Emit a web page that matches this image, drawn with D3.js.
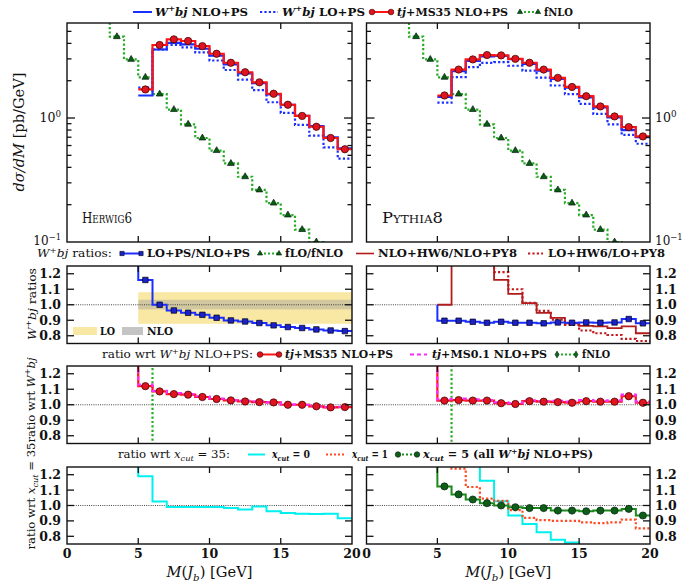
<!DOCTYPE html>
<html>
<head>
<meta charset="utf-8">
<script src="https://cdn.jsdelivr.net/npm/d3@7"></script>
<style>
body { margin: 0; background: #fff; }
text { font-family: "DejaVu Serif", serif; fill: #111; }
</style>
</head>
<body>
<div id="chart"></div>
<script>
// bins of M(J_b), lower edges (1 GeV wide)
var binLo = [5, 6, 7, 8, 9, 10, 11, 12, 13, 14, 15, 16, 17, 18, 19];
var fnloLo = [2, 3, 4, 5, 6, 7, 8, 9, 10, 11, 12, 13, 14, 15, 16, 17, 18];

// dsigma/dM [pb/GeV]
var fnlo = [8.0, 4.53, 2.97, 2.13, 1.56, 1.17, 0.89, 0.69, 0.546, 0.43, 0.336, 0.263, 0.206, 0.165, 0.126, 0.10, 0.08];
var hwNLO = [1.52, 3.57, 4.03, 3.92, 3.62, 3.18, 2.71, 2.29, 1.91, 1.55, 1.28, 1.04, 0.86, 0.70, 0.57];
var hwLO = [1.76, 3.57, 3.88, 3.72, 3.38, 2.91, 2.44, 2.04, 1.68, 1.34, 1.10, 0.88, 0.72, 0.58, 0.47];
var hwTJ = [1.70, 3.88, 4.31, 4.18, 3.80, 3.30, 2.79, 2.34, 1.94, 1.57, 1.28, 1.04, 0.85, 0.69, 0.56];
var pyNLO = [1.48, 2.39, 2.89, 3.14, 3.17, 2.99, 2.73, 2.41, 2.07, 1.76, 1.47, 1.22, 1.01, 0.80, 0.70];
var pyLO = [1.33, 2.14, 2.57, 2.78, 2.82, 2.64, 2.41, 2.12, 1.83, 1.56, 1.30, 1.08, 0.89, 0.73, 0.62];
var pyTJ = [1.52, 2.46, 2.97, 3.22, 3.20, 3.00, 2.79, 2.46, 2.11, 1.78, 1.50, 1.24, 1.03, 0.845, 0.71];

// W+bj ratios
var hwLOoverNLO = [1.16, 1.0, 0.963, 0.948, 0.935, 0.916, 0.899, 0.892, 0.882, 0.867, 0.856, 0.85, 0.841, 0.834, 0.83];
var pyLOoverNLO = [0.897, 0.897, 0.89, 0.884, 0.89, 0.884, 0.884, 0.88, 0.886, 0.884, 0.886, 0.884, 0.886, 0.908, 0.88];
var nloHWoverPY = [1.0, 1.5, 1.5, 1.5, 1.16, 1.07, 1.01, 0.947, 0.915, 0.88, 0.864, 0.86, 0.849, 0.86, 0.816];
var loHWoverPY = [1.5, 1.5, 1.5, 1.5, 1.21, 1.10, 1.013, 0.96, 0.904, 0.87, 0.834, 0.816, 0.805, 0.78, 0.766];
var bandLO = [0.877, 1.081];
var bandNLO = [0.97, 1.032];

// ratio wrt W+bj NLO+PS
var hwTJratio = [1.12, 1.086, 1.069, 1.065, 1.05, 1.037, 1.028, 1.021, 1.017, 1.015, 1.0, 1.0, 0.99, 0.983, 0.985];
var hwMS01ratio = [1.13, 1.09, 1.075, 1.068, 1.055, 1.04, 1.03, 1.025, 1.022, 1.015, 1.003, 1.0, 0.99, 0.985, 0.987];
var hwFnloRatio = [1.40, 0.44, 0.29, 0.23, 0.19, 0.17, 0.16, 0.15, 0.14, 0.13, 0.13, 0.12, 0.12, 0.11, 0.10];
var pyTJratio = [1.027, 1.03, 1.027, 1.027, 1.01, 1.005, 1.023, 1.02, 1.017, 1.013, 1.023, 1.02, 1.02, 1.055, 1.013];
var pyMS01ratio = [1.035, 1.04, 1.035, 1.03, 1.015, 1.01, 1.028, 1.024, 1.025, 1.02, 1.03, 1.025, 1.028, 1.065, 1.02];
var pyFnloRatio = [1.45, 0.65, 0.40, 0.28, 0.22, 0.18, 0.16, 0.14, 0.13, 0.12, 0.11, 0.10, 0.10, 0.10, 0.09];

// ratio wrt x_cut = 35
var hwXcut0 = [1.19, 1.026, 0.99, 0.99, 0.99, 0.99, 0.983, 0.974, 0.993, 0.963, 0.952, 0.946, 0.944, 0.946, 0.918];
var pyXcut0 = [1.5, 1.5, 1.5, 1.16, 1.028, 0.935, 0.88, 0.826, 0.778, 0.76, 0.7, 0.7, 0.7, 0.7, 0.7];
var pyXcut1 = [1.5, 1.24, 1.12, 1.045, 1.03, 0.97, 0.92, 0.905, 0.9, 0.9, 0.89, 0.885, 0.89, 0.908, 0.852];
var pyXcut5 = [1.124, 1.072, 1.039, 1.015, 1.0, 0.989, 0.983, 0.983, 0.967, 0.967, 0.963, 0.967, 0.967, 0.978, 0.935];

var xTicks = [0, 5, 10, 15, 20];
var ratioTicks = [0.8, 0.9, 1.0, 1.1, 1.2];
var logMinor = [0.2, 0.3, 0.4, 0.5, 0.6, 0.7, 0.8, 0.9, 2, 3, 4, 5];

var blue = "#1a2fff", red = "#ff1414", darkred = "#b01c1c", green = "#26ac26",
    magenta = "#ff2aff", cyan = "#00f0f0", orange = "#ff4a22", dkgreen = "#1a8a1a";

var svg = d3.select("#chart").append("svg")
    .attr("width", 685)
    .attr("height", 587);

var cols = [{x0: 67, x1: 352}, {x0: 366.5, x1: 650}];
var rows = [{y0: 23, y1: 242}, {y0: 266, y1: 343.5}, {y0: 366, y1: 443.5}, {y0: 467, y1: 544}];
var xs = cols.map(function(c) { return d3.scaleLinear().domain([0, 20]).range([c.x0, c.x1]); });

// text with tiny markup: {i:..} italic, {sup:..}, {sub:..} (italic)
function rich(g, x, y, str, fs, len) {
    var t = g.append("text").attr("x", x).attr("y", y).attr("font-size", fs);
    var shift = 0, re = /\{(\w+):([^}]*)\}|[^{]+/g, m;
    while ((m = re.exec(str)) !== null) {
        var kind = m[1] || "n", txt = m[1] ? m[2] : m[0];
        var s = t.append("tspan").text(txt);
        var target = kind == "sup" ? -0.42 * fs : kind == "sub" ? 0.28 * fs : 0;
        if (target != shift) { s.attr("dy", target - shift); shift = target; }
        if (kind == "sup" || kind == "sub") s.attr("font-size", fs * 0.7);
        if (kind == "i" || kind == "sub") s.attr("font-style", "italic");
    }
    if (len) t.attr("textLength", len).attr("lengthAdjust", "spacingAndGlyphs");
    return t;
}

var clipN = 0;
function makePanel(ci, ri) {
    var c = cols[ci], r = rows[ri];
    var id = "clip" + (clipN++);
    svg.append("clipPath").attr("id", id).append("rect")
        .attr("x", c.x0).attr("y", r.y0)
        .attr("width", c.x1 - c.x0).attr("height", r.y1 - r.y0);
    var y = ri == 0
        ? d3.scaleLog().domain([0.1, 5.84]).range([r.y1, r.y0])
        : d3.scaleLinear().domain([0.75, 1.25]).range([r.y1, r.y0]);
    var g = svg.append("g");
    var plot = g.append("g").attr("clip-path", "url(#" + id + ")");
    return {g: g, plot: plot, x: xs[ci], y: y, c: c, r: r, ci: ci, ri: ri};
}

function step(p, lo, vals, st) {
    var pts = [];
    if (st.from != null) pts.push([lo[0], st.from]);
    lo.forEach(function(l, i) { pts.push([l, vals[i]]); pts.push([l + 1, vals[i]]); });
    p.plot.append("path")
        .attr("d", d3.line().x(function(d) { return p.x(d[0]); }).y(function(d) { return p.y(d[1]); })(pts))
        .attr("fill", "none")
        .attr("stroke", st.color)
        .attr("stroke-width", st.width || 2)
        .attr("stroke-dasharray", st.dash || null);
}

function symbolPath(kind, size) {
    var types = {circle: d3.symbolCircle, tri: d3.symbolTriangle, square: d3.symbolSquare, diamond: d3.symbolDiamond};
    return d3.symbol().type(types[kind]).size(size)();
}

var markStyle = {
    circle: {fill: "#e0141e", stroke: "#300", size: 42},
    tri: {fill: "#0c5a14", stroke: "#021", size: 20},
    square: {fill: "#1a22c8", stroke: "#001", size: 30},
    gcircle: {fill: "#0e5e18", stroke: "#021", size: 40},
    diamond: {fill: "#0e6a18", stroke: "#021", size: 22}
};

function marks(p, lo, vals, key) {
    var ms = markStyle[key];
    p.plot.selectAll(null)
        .data(vals)
        .enter()
        .append("path")
        .attr("transform", function(d, i) { return "translate(" + p.x(lo[i] + 0.5) + "," + p.y(d) + ")"; })
        .attr("d", symbolPath(key == "gcircle" ? "circle" : key, ms.size))
        .attr("fill", ms.fill)
        .attr("stroke", ms.stroke)
        .attr("stroke-width", 0.7);
}

function unityLine(p) {
    p.plot.append("line")
        .attr("x1", p.c.x0).attr("x2", p.c.x1)
        .attr("y1", p.y(1)).attr("y2", p.y(1))
        .attr("stroke", "#333").attr("stroke-width", 0.9)
        .attr("stroke-dasharray", "1,1.2");
}

function finish(p) {
    var g = p.g, c = p.c, r = p.r;
    [5, 10, 15].forEach(function(v) {
        var xx = p.x(v);
        g.append("line").attr("x1", xx).attr("x2", xx).attr("y1", r.y0).attr("y2", r.y0 + 6).attr("stroke", "#111").attr("stroke-width", 1.3);
        g.append("line").attr("x1", xx).attr("x2", xx).attr("y1", r.y1).attr("y2", r.y1 - 6).attr("stroke", "#111").attr("stroke-width", 1.3);
    });
    var yt = p.ri == 0
        ? [{v: 1, len: 8}].concat(logMinor.map(function(v) { return {v: v, len: 4.5}; }))
        : ratioTicks.map(function(v) { return {v: v, len: 7}; });
    yt.forEach(function(t) {
        var yy = p.y(t.v);
        g.append("line").attr("x1", c.x0).attr("x2", c.x0 + t.len).attr("y1", yy).attr("y2", yy).attr("stroke", "#111").attr("stroke-width", 1.3);
        g.append("line").attr("x1", c.x1).attr("x2", c.x1 - t.len).attr("y1", yy).attr("y2", yy).attr("stroke", "#111").attr("stroke-width", 1.3);
    });
    g.append("rect")
        .attr("x", c.x0).attr("y", r.y0)
        .attr("width", c.x1 - c.x0).attr("height", r.y1 - r.y0)
        .attr("fill", "none").attr("stroke", "#111").attr("stroke-width", 1.4);

    // tick labels on the outer side
    var left = p.ci == 0;
    var lx = left ? c.x0 - 6 : c.x1 + 5;
    var anchor = left ? "end" : "start";
    if (p.ri == 0) {
        rich(g, lx, p.y(1) + 4, "10{sup:0}", 12.5).attr("text-anchor", anchor).attr("font-family", "Liberation Serif");
        rich(g, lx, p.y(0.1) + 3, "10{sup:−1}", 12).attr("text-anchor", anchor).attr("font-family", "Liberation Serif");
    } else {
        ratioTicks.forEach(function(v) {
            g.append("text").attr("x", lx).attr("y", p.y(v) + 4.5)
                .attr("text-anchor", anchor).attr("font-size", 12.5).attr("font-weight", "bold")
                .text(d3.format(".1f")(v));
        });
    }
    if (p.ri == 3) {
        xTicks.forEach(function(v) {
            g.append("text").attr("x", p.x(v)).attr("y", 558)
                .attr("text-anchor", "middle").attr("font-size", 12.5).attr("font-weight", "bold")
                .text(v);
        });
        rich(g, p.x(10), 577, "{i:M}({i:J}{sub:b}) [GeV]", 14, 86).attr("text-anchor", "middle");
    }
}

function legendItem(y, it) {
    var g = svg.append("g");
    var ly = y - 3.5;
    g.append("line")
        .attr("x1", it.s0).attr("x2", it.s1).attr("y1", ly).attr("y2", ly)
        .attr("stroke", it.color).attr("stroke-width", it.width || 2)
        .attr("stroke-dasharray", it.dash || null);
    if (it.mark) {
        var ms = markStyle[it.mark];
        [it.s0, it.s1].forEach(function(xx) {
            g.append("path")
                .attr("transform", "translate(" + xx + "," + ly + ")")
                .attr("d", symbolPath(it.mark == "gcircle" ? "circle" : it.mark, ms.size * 0.6))
                .attr("fill", ms.fill).attr("stroke", ms.stroke).attr("stroke-width", 0.6);
        });
    }
    rich(g, it.t0, y, it.label, 10.5, it.t1 - it.t0).attr("font-weight", "bold");
}

function header(x0, x1, y, str) {
    rich(svg, x0, y, str, 10.5, x1 - x0);
}

function smallCaps(x, y, str, len) {
    svg.append("text").attr("x", x).attr("y", y)
        .attr("font-size", 15).attr("font-variant", "small-caps")
        .attr("textLength", len).attr("lengthAdjust", "spacingAndGlyphs")
        .text(str);
}

// ---- top panels ----
[[hwNLO, hwLO, hwTJ], [pyNLO, pyLO, pyTJ]].forEach(function(set, ci) {
    var p = makePanel(ci, 0);
    step(p, fnloLo, fnlo, {color: green, width: 2.2, dash: "2.2,2.2"});
    step(p, binLo, set[1], {color: blue, width: 2.2, dash: "2.2,2.2"});
    step(p, binLo, set[0], {color: blue, width: 2.2});
    step(p, binLo, set[2], {color: red, width: 2.2});
    marks(p, fnloLo, fnlo, "tri");
    marks(p, binLo, set[2], "circle");
    finish(p);
});
smallCaps(82, 223, "Herwig6", 50);
smallCaps(382, 223, "Pythia8", 61);

// ---- ratio panel 1 ----
var p1 = makePanel(0, 1);
p1.plot.append("rect")
    .attr("x", p1.x(5)).attr("width", p1.x(20) - p1.x(5))
    .attr("y", p1.y(bandLO[1])).attr("height", p1.y(bandLO[0]) - p1.y(bandLO[1]))
    .attr("fill", "#f9e8a4");
p1.plot.append("rect")
    .attr("x", p1.x(5)).attr("width", p1.x(20) - p1.x(5))
    .attr("y", p1.y(bandNLO[1])).attr("height", p1.y(bandNLO[0]) - p1.y(bandNLO[1]))
    .attr("fill", "#9a9a9a").attr("fill-opacity", 0.42);
unityLine(p1);
step(p1, binLo, hwLOoverNLO, {color: blue, from: 1.5});
marks(p1, binLo, hwLOoverNLO, "square");
p1.g.append("rect").attr("x", 73).attr("y", 327).attr("width", 24).attr("height", 8).attr("fill", "#f9e8a4");
rich(p1.g, 100, 335, "LO", 10.5, 15).attr("font-weight", "bold");
p1.g.append("rect").attr("x", 122).attr("y", 327).attr("width", 21).attr("height", 8).attr("fill", "#c4c4c4");
rich(p1.g, 147, 335, "NLO", 10.5, 26).attr("font-weight", "bold");
finish(p1);

var p1r = makePanel(1, 1);
unityLine(p1r);
step(p1r, binLo, nloHWoverPY, {color: darkred, width: 1.8});
step(p1r, binLo, loHWoverPY, {color: "#c0181c", width: 2.2, dash: "2.2,2.2"});
step(p1r, binLo, pyLOoverNLO, {color: blue, from: 1.0});
marks(p1r, binLo, pyLOoverNLO, "square");
finish(p1r);

// ---- ratio panel 2 ----
[[hwTJratio, hwMS01ratio, hwFnloRatio], [pyTJratio, pyMS01ratio, pyFnloRatio]].forEach(function(set, ci) {
    var p = makePanel(ci, 2);
    unityLine(p);
    step(p, binLo, set[2], {color: green, width: 2.2, dash: "2.2,2.2"});
    step(p, binLo, set[0], {color: red, width: 2.2, from: 1.5});
    step(p, binLo, set[1], {color: magenta, width: 2.2, dash: "4,3", from: 1.5});
    marks(p, binLo, set[2], "diamond");
    marks(p, binLo, set[0], "circle");
    finish(p);
});

// ---- ratio panel 3 ----
var p3 = makePanel(0, 3);
unityLine(p3);
step(p3, binLo, hwXcut0, {color: cyan, width: 2, from: 1.5});
finish(p3);

var p3r = makePanel(1, 3);
unityLine(p3r);
step(p3r, binLo, pyXcut0, {color: cyan, width: 2});
step(p3r, binLo, pyXcut1, {color: orange, width: 2.2, dash: "2.2,2.2"});
step(p3r, binLo, pyXcut5, {color: dkgreen, width: 2, from: 1.5});
marks(p3r, binLo, pyXcut5, "gcircle");
finish(p3r);

// ---- legends ----
legendItem(15.5, {s0: 133, s1: 152, color: blue, t0: 155, t1: 248, label: "{i:W}{sup:+}{i:bj} NLO+PS"});
legendItem(15.5, {s0: 260, s1: 278, color: blue, dash: "2.2,2.2", t0: 282, t1: 365, label: "{i:W}{sup:+}{i:bj} LO+PS"});
legendItem(15.5, {s0: 372, s1: 391, color: red, mark: "circle", t0: 397, t1: 508, label: "{i:tj}+MS35 NLO+PS"});
legendItem(15.5, {s0: 520, s1: 538, color: green, dash: "2,2", mark: "tri", t0: 544, t1: 573, label: "fNLO"});

header(37, 112, 257, "{i:W}{sup:+}{i:bj} ratios:");
legendItem(257, {s0: 122, s1: 141, color: blue, mark: "square", t0: 147, t1: 250, label: "LO+PS/NLO+PS"});
legendItem(257, {s0: 260, s1: 279, color: green, dash: "2,2", mark: "tri", t0: 285, t1: 343, label: "fLO/fNLO"});
legendItem(257, {s0: 356, s1: 374, color: darkred, width: 1.6, t0: 378, t1: 517, label: "NLO+HW6/NLO+PY8"});
legendItem(257, {s0: 528, s1: 543, color: "#c0181c", dash: "2.2,2.2", t0: 548, t1: 665, label: "LO+HW6/LO+PY8"});

header(102, 253, 358, "ratio wrt {i:W}{sup:+}{i:bj} NLO+PS:");
legendItem(358, {s0: 260, s1: 279, color: red, mark: "circle", t0: 285, t1: 393, label: "{i:tj}+MS35 NLO+PS"});
legendItem(358, {s0: 410, s1: 427, color: magenta, dash: "4,3", t0: 432, t1: 547, label: "{i:tj}+MS0.1 NLO+PS"});
legendItem(358, {s0: 557, s1: 576, color: green, dash: "2,2", mark: "diamond", t0: 582, t1: 610, label: "fNLO"});

header(118, 230, 458, "ratio wrt {i:x}{sub:cut} = 35:");
legendItem(458, {s0: 248, s1: 265, color: cyan, t0: 272, t1: 310, label: "{i:x}{sub:cut} = 0"});
legendItem(458, {s0: 326, s1: 345, color: orange, dash: "2,2", t0: 352, t1: 388, label: "{i:x}{sub:cut} = 1"});
legendItem(458, {s0: 398, s1: 417, color: dkgreen, dash: "2,2", mark: "gcircle", t0: 423, t1: 593, label: "{i:x}{sub:cut} = 5 (all {i:W}{sup:+}{i:bj} NLO+PS)"});

// ---- y axis titles ----
function ylabel(x, yc, str, fs, len) {
    rich(svg, x, yc, str, fs, len)
        .attr("text-anchor", "middle")
        .attr("transform", "rotate(-90," + x + "," + yc + ")");
}
ylabel(24, 132, "{i:dσ/dM} [pb/GeV]", 14, 119);
ylabel(36, 304, "{i:W}{sup:+}{i:bj} ratios", 11.5, 72);
ylabel(35, 400, "ratio wrt {i:W}{sup:+}{i:bj}", 11, 85);
ylabel(35, 496, "ratio wrt {i:x}{sub:cut} = 35", 11, 107);
</script>
</body>
</html>
